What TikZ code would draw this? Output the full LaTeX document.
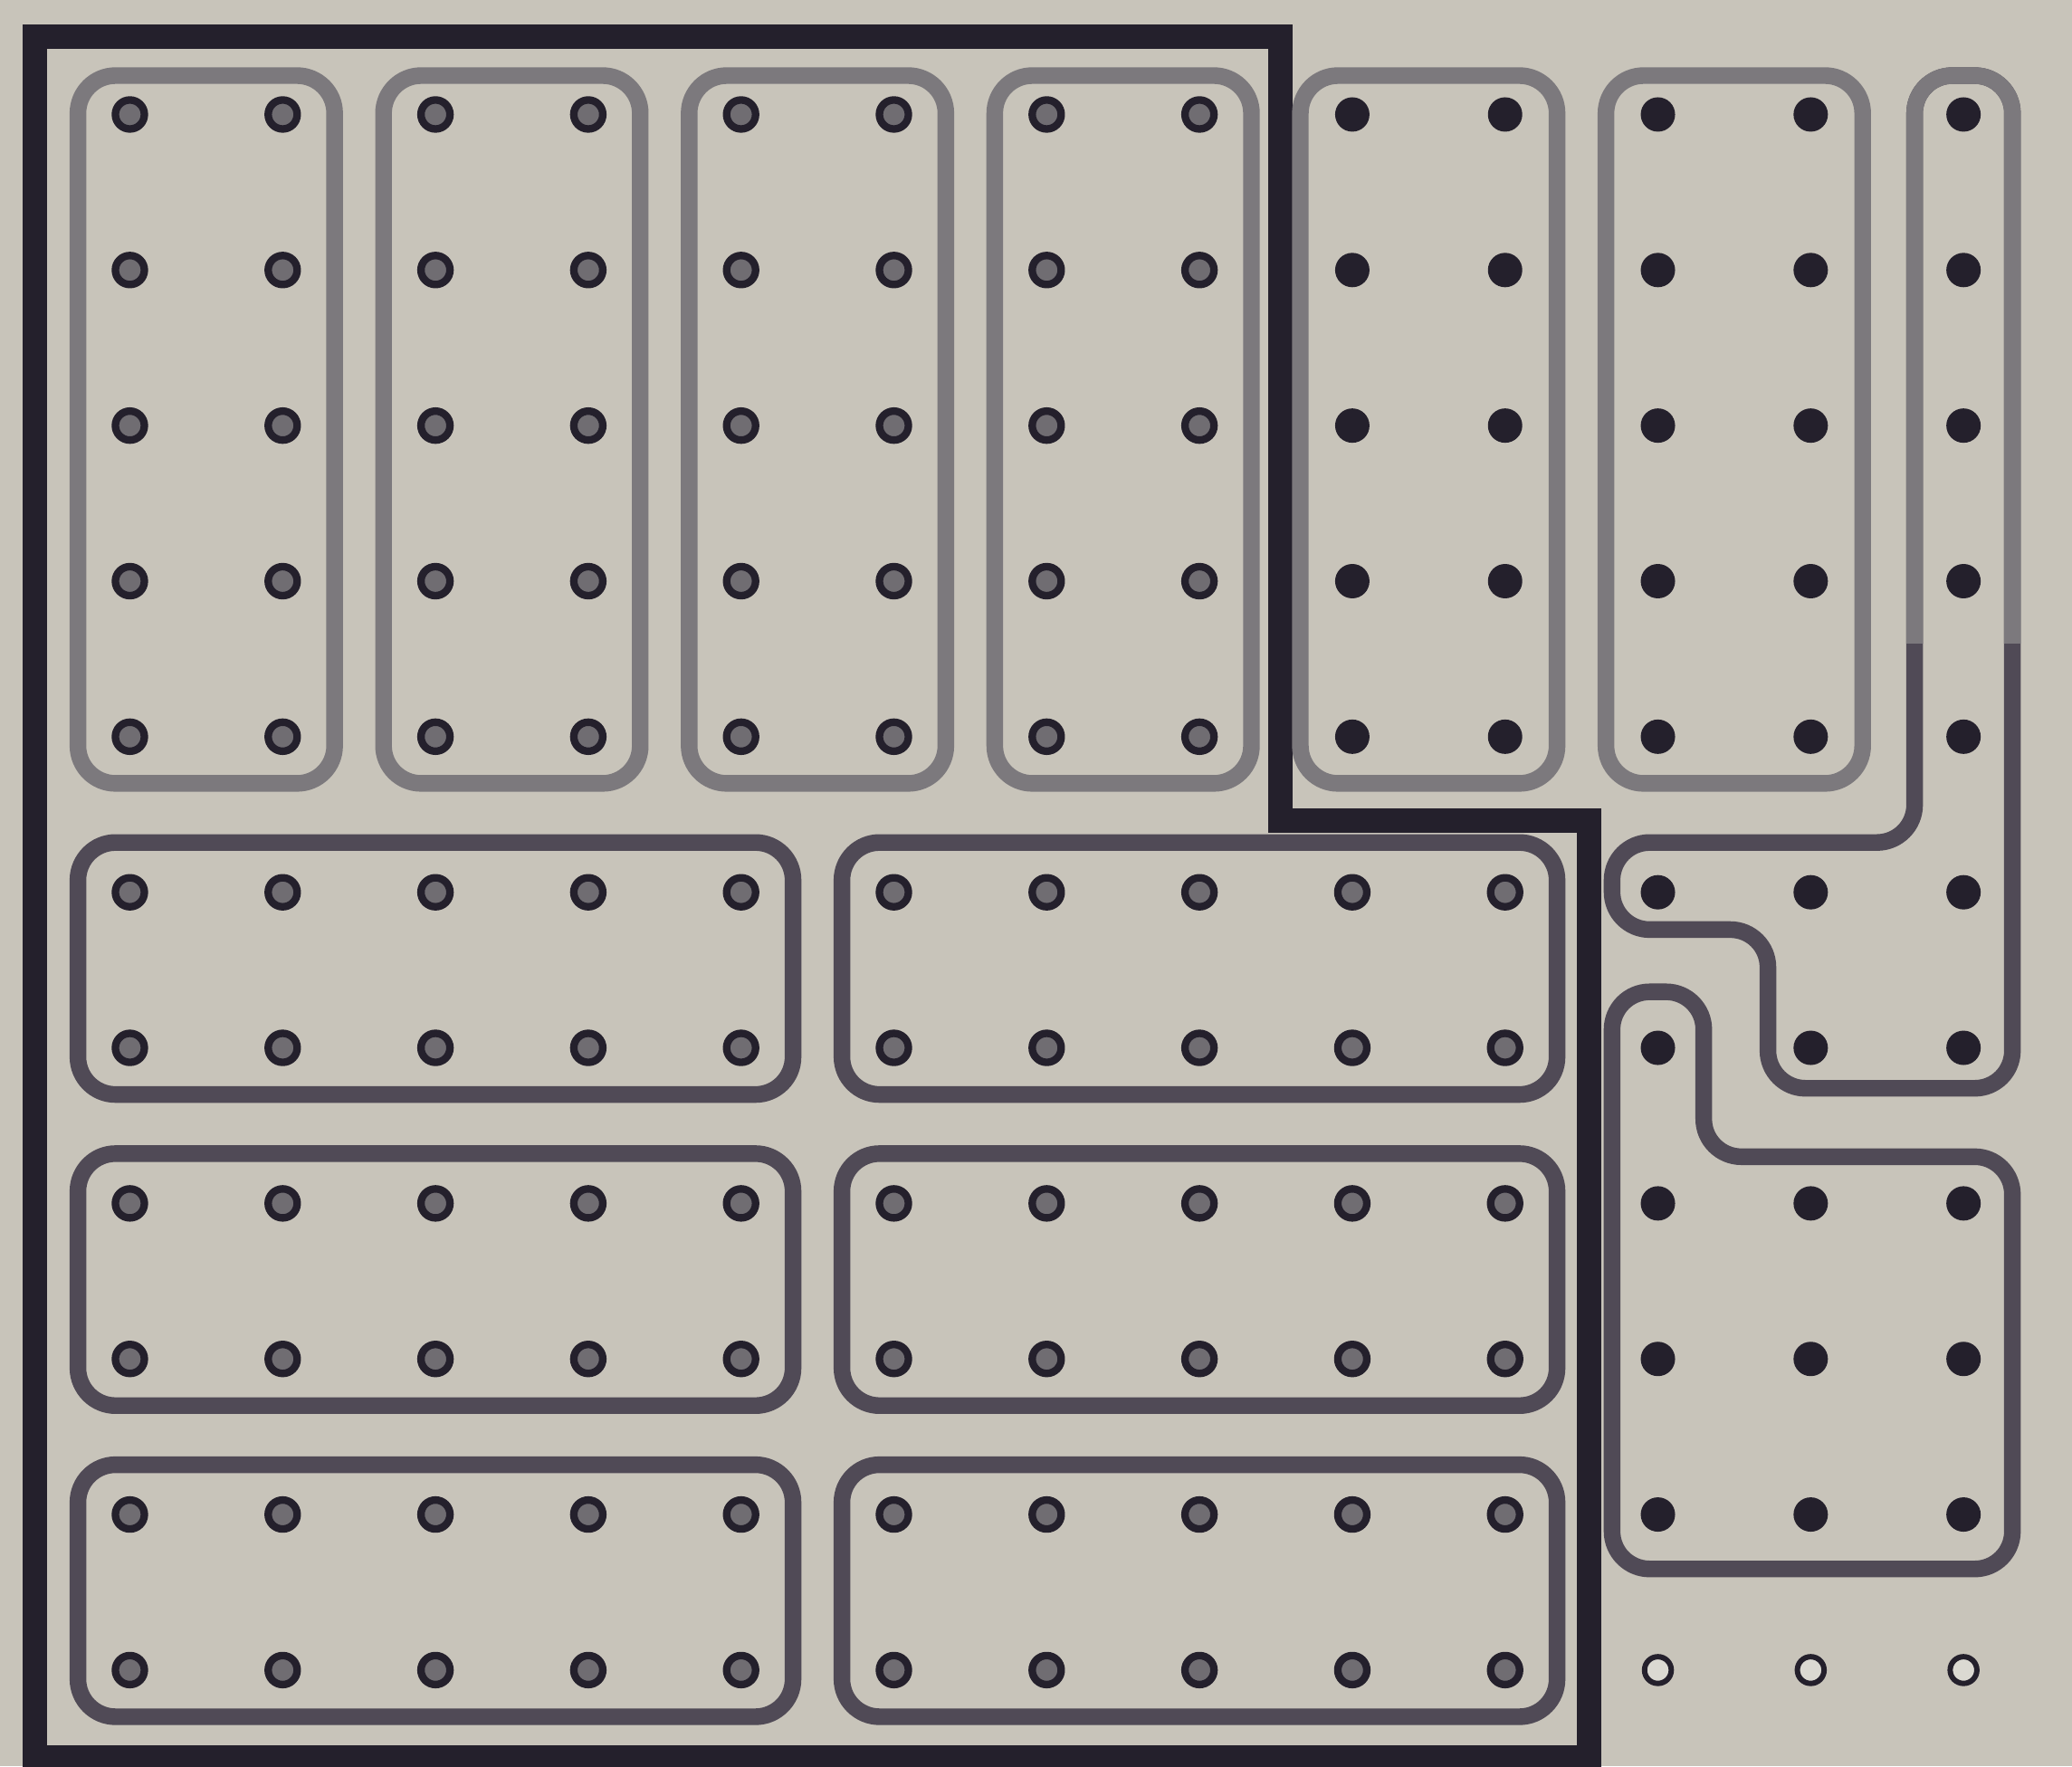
\documentclass[tikz,border=0pt]{standalone}
\definecolor{paper}{RGB}{200,196,186}
\definecolor{inkblack}{RGB}{36,32,44}
\definecolor{inkgray}{RGB}{124,121,125}
\definecolor{inkdark}{RGB}{80,74,86}
\definecolor{dotfill}{RGB}{112,109,114}
\begin{document}
\begin{tikzpicture}[line cap=round,line join=round,x=1cm,y=1.018cm,
  shdot/.style={circle,draw=inkblack,fill=dotfill,line width=1.4pt,inner sep=0pt,minimum size=1.9mm},
  soliddot/.style={circle,fill=inkblack,inner sep=0pt,minimum size=2.25mm},
  hollowdot/.style={circle,draw=inkblack,fill=white!35!paper,line width=1pt,inner sep=0pt,minimum size=1.75mm},
  lightframe/.style={draw=inkgray,line width=3.1pt,rounded corners=7pt},
  darkframe/.style={draw=inkdark,line width=3.1pt,rounded corners=7pt},
  outline/.style={draw=inkblack,line width=4.6pt,line join=miter,line cap=rect}]
\useasboundingbox (0.15,0.38) rectangle (13.71,11.736);
\fill[paper] (0.15,0.38) rectangle (13.71,11.736);
\draw[outline] (0.38,11.5) -- (8.53,11.5) -- (8.53,6.46) -- (10.55,6.46) -- (10.55,0.44) -- (0.38,0.44) -- cycle;
\draw[lightframe] (0.66,6.7) rectangle (2.34,11.25);
\draw[lightframe] (2.66,6.7) rectangle (4.34,11.25);
\draw[lightframe] (4.66,6.7) rectangle (6.34,11.25);
\draw[lightframe] (6.66,6.7) rectangle (8.34,11.25);
\draw[lightframe] (8.66,6.7) rectangle (10.34,11.25);
\draw[lightframe] (10.66,6.7) rectangle (12.34,11.25);
\draw[darkframe] (0.66,4.7) rectangle (5.34,6.32);
\draw[darkframe] (5.66,4.7) rectangle (10.34,6.32);
\draw[darkframe] (0.66,2.7) rectangle (5.34,4.32);
\draw[darkframe] (5.66,2.7) rectangle (10.34,4.32);
\draw[darkframe] (0.66,0.7) rectangle (5.34,2.32);
\draw[darkframe] (5.66,0.7) rectangle (10.34,2.32);
\draw[darkframe] (12.68,11.25) -- (13.32,11.25) -- (13.32,4.74) -- (11.72,4.74) -- (11.72,5.76) -- (10.7,5.76) -- (10.7,6.32) -- (12.68,6.32) -- cycle;
\begin{scope}
\clip (12.3,7.6) rectangle (13.71,11.736);
\draw[lightframe] (12.68,11.25) -- (13.32,11.25) -- (13.32,4.74) -- (11.72,4.74) -- (11.72,5.76) -- (10.7,5.76) -- (10.7,6.32) -- (12.68,6.32) -- cycle;
\end{scope}
\draw[darkframe] (10.7,5.36) -- (11.3,5.36) -- (11.3,4.3) -- (13.32,4.3) -- (13.32,1.65) -- (10.7,1.65) -- cycle;
\node[shdot] (p1-1) at (1,11) {};
\node[shdot] (p2-1) at (2,11) {};
\node[shdot] (p1-2) at (1,10) {};
\node[shdot] (p2-2) at (2,10) {};
\node[shdot] (p1-3) at (1,9) {};
\node[shdot] (p2-3) at (2,9) {};
\node[shdot] (p1-4) at (1,8) {};
\node[shdot] (p2-4) at (2,8) {};
\node[shdot] (p1-5) at (1,7) {};
\node[shdot] (p2-5) at (2,7) {};
\node[shdot] (p3-1) at (3,11) {};
\node[shdot] (p4-1) at (4,11) {};
\node[shdot] (p3-2) at (3,10) {};
\node[shdot] (p4-2) at (4,10) {};
\node[shdot] (p3-3) at (3,9) {};
\node[shdot] (p4-3) at (4,9) {};
\node[shdot] (p3-4) at (3,8) {};
\node[shdot] (p4-4) at (4,8) {};
\node[shdot] (p3-5) at (3,7) {};
\node[shdot] (p4-5) at (4,7) {};
\node[shdot] (p5-1) at (5,11) {};
\node[shdot] (p6-1) at (6,11) {};
\node[shdot] (p5-2) at (5,10) {};
\node[shdot] (p6-2) at (6,10) {};
\node[shdot] (p5-3) at (5,9) {};
\node[shdot] (p6-3) at (6,9) {};
\node[shdot] (p5-4) at (5,8) {};
\node[shdot] (p6-4) at (6,8) {};
\node[shdot] (p5-5) at (5,7) {};
\node[shdot] (p6-5) at (6,7) {};
\node[shdot] (p7-1) at (7,11) {};
\node[shdot] (p8-1) at (8,11) {};
\node[shdot] (p7-2) at (7,10) {};
\node[shdot] (p8-2) at (8,10) {};
\node[shdot] (p7-3) at (7,9) {};
\node[shdot] (p8-3) at (8,9) {};
\node[shdot] (p7-4) at (7,8) {};
\node[shdot] (p8-4) at (8,8) {};
\node[shdot] (p7-5) at (7,7) {};
\node[shdot] (p8-5) at (8,7) {};
\node[soliddot] (p9-1) at (9,11) {};
\node[soliddot] (p10-1) at (10,11) {};
\node[soliddot] (p9-2) at (9,10) {};
\node[soliddot] (p10-2) at (10,10) {};
\node[soliddot] (p9-3) at (9,9) {};
\node[soliddot] (p10-3) at (10,9) {};
\node[soliddot] (p9-4) at (9,8) {};
\node[soliddot] (p10-4) at (10,8) {};
\node[soliddot] (p9-5) at (9,7) {};
\node[soliddot] (p10-5) at (10,7) {};
\node[soliddot] (p11-1) at (11,11) {};
\node[soliddot] (p12-1) at (12,11) {};
\node[soliddot] (p11-2) at (11,10) {};
\node[soliddot] (p12-2) at (12,10) {};
\node[soliddot] (p11-3) at (11,9) {};
\node[soliddot] (p12-3) at (12,9) {};
\node[soliddot] (p11-4) at (11,8) {};
\node[soliddot] (p12-4) at (12,8) {};
\node[soliddot] (p11-5) at (11,7) {};
\node[soliddot] (p12-5) at (12,7) {};
\node[soliddot] (p13-1) at (13,11) {};
\node[soliddot] (p13-2) at (13,10) {};
\node[soliddot] (p13-3) at (13,9) {};
\node[soliddot] (p13-4) at (13,8) {};
\node[soliddot] (p13-5) at (13,7) {};
\node[soliddot] (p11-6) at (11,6) {};
\node[soliddot] (p12-6) at (12,6) {};
\node[soliddot] (p13-6) at (13,6) {};
\node[soliddot] (p12-7) at (12,5) {};
\node[soliddot] (p13-7) at (13,5) {};
\node[soliddot] (p11-7) at (11,5) {};
\node[soliddot] (p11-8) at (11,4) {};
\node[soliddot] (p12-8) at (12,4) {};
\node[soliddot] (p13-8) at (13,4) {};
\node[soliddot] (p11-9) at (11,3) {};
\node[soliddot] (p12-9) at (12,3) {};
\node[soliddot] (p13-9) at (13,3) {};
\node[soliddot] (p11-10) at (11,2) {};
\node[soliddot] (p12-10) at (12,2) {};
\node[soliddot] (p13-10) at (13,2) {};
\node[hollowdot] (p11-11) at (11,1) {};
\node[hollowdot] (p12-11) at (12,1) {};
\node[hollowdot] (p13-11) at (13,1) {};
\node[shdot] (p1-6) at (1,6) {};
\node[shdot] (p2-6) at (2,6) {};
\node[shdot] (p3-6) at (3,6) {};
\node[shdot] (p4-6) at (4,6) {};
\node[shdot] (p5-6) at (5,6) {};
\node[shdot] (p1-7) at (1,5) {};
\node[shdot] (p2-7) at (2,5) {};
\node[shdot] (p3-7) at (3,5) {};
\node[shdot] (p4-7) at (4,5) {};
\node[shdot] (p5-7) at (5,5) {};
\node[shdot] (p6-6) at (6,6) {};
\node[shdot] (p7-6) at (7,6) {};
\node[shdot] (p8-6) at (8,6) {};
\node[shdot] (p9-6) at (9,6) {};
\node[shdot] (p10-6) at (10,6) {};
\node[shdot] (p6-7) at (6,5) {};
\node[shdot] (p7-7) at (7,5) {};
\node[shdot] (p8-7) at (8,5) {};
\node[shdot] (p9-7) at (9,5) {};
\node[shdot] (p10-7) at (10,5) {};
\node[shdot] (p1-8) at (1,4) {};
\node[shdot] (p2-8) at (2,4) {};
\node[shdot] (p3-8) at (3,4) {};
\node[shdot] (p4-8) at (4,4) {};
\node[shdot] (p5-8) at (5,4) {};
\node[shdot] (p1-9) at (1,3) {};
\node[shdot] (p2-9) at (2,3) {};
\node[shdot] (p3-9) at (3,3) {};
\node[shdot] (p4-9) at (4,3) {};
\node[shdot] (p5-9) at (5,3) {};
\node[shdot] (p6-8) at (6,4) {};
\node[shdot] (p7-8) at (7,4) {};
\node[shdot] (p8-8) at (8,4) {};
\node[shdot] (p9-8) at (9,4) {};
\node[shdot] (p10-8) at (10,4) {};
\node[shdot] (p6-9) at (6,3) {};
\node[shdot] (p7-9) at (7,3) {};
\node[shdot] (p8-9) at (8,3) {};
\node[shdot] (p9-9) at (9,3) {};
\node[shdot] (p10-9) at (10,3) {};
\node[shdot] (p1-10) at (1,2) {};
\node[shdot] (p2-10) at (2,2) {};
\node[shdot] (p3-10) at (3,2) {};
\node[shdot] (p4-10) at (4,2) {};
\node[shdot] (p5-10) at (5,2) {};
\node[shdot] (p1-11) at (1,1) {};
\node[shdot] (p2-11) at (2,1) {};
\node[shdot] (p3-11) at (3,1) {};
\node[shdot] (p4-11) at (4,1) {};
\node[shdot] (p5-11) at (5,1) {};
\node[shdot] (p6-10) at (6,2) {};
\node[shdot] (p7-10) at (7,2) {};
\node[shdot] (p8-10) at (8,2) {};
\node[shdot] (p9-10) at (9,2) {};
\node[shdot] (p10-10) at (10,2) {};
\node[shdot] (p6-11) at (6,1) {};
\node[shdot] (p7-11) at (7,1) {};
\node[shdot] (p8-11) at (8,1) {};
\node[shdot] (p9-11) at (9,1) {};
\node[shdot] (p10-11) at (10,1) {};
\end{tikzpicture}
\end{document}
